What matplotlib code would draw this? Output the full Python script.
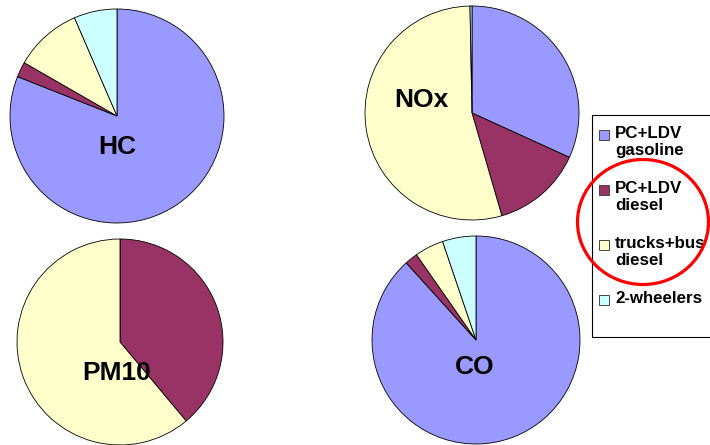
import matplotlib
matplotlib.use('Agg')
import matplotlib.pyplot as plt
from matplotlib.patches import Rectangle, Ellipse

plt.rcParams['font.family'] = ['Liberation Sans', 'DejaVu Sans']
plt.rcParams['font.weight'] = 'bold'

# shares of emissions per vehicle category (%)
categories = ['PC+LDV\ngasoline', 'PC+LDV\ndiesel', 'trucks+bus\ndiesel', '2-wheelers']
colors = ['#9999FF', '#993366', '#FFFFCC', '#CCFFFF']

hc = [81.0, 2.3, 10.2, 6.5]
nox = [31.8, 13.7, 54.2, 0.3]
pm10 = [0.0, 38.9, 61.1, 0.0]
co = [88.3, 2.0, 4.5, 5.2]

W, H = 710, 445

# pollutant name, values, pie centre (image px), radius, label position (image px)
pies = [
    ('HC', hc, (117, 116), 107, (117, 147)),
    ('NOx', nox, (472, 113), 107, (421, 100)),
    ('PM10', pm10, (120, 342), 103, (117, 373)),
    ('CO', co, (476, 340), 104, (475, 367)),
]

fig = plt.figure(figsize=(W / 100, H / 100), dpi=100)
ax = fig.add_axes([0, 0, 1, 1])

for name, vals, (cx, cy), r, (lx, ly) in pies:
    v = [x for x in vals if x > 0]
    c = [col for x, col in zip(vals, colors) if x > 0]
    ax.pie(v, colors=c, center=(cx, H - cy), radius=r, startangle=90,
           counterclock=False, wedgeprops=dict(edgecolor='black', linewidth=0.6))
    ax.text(lx, H - ly, name, fontsize=19, fontweight='bold',
            ha='center', va='center')

# legend drawn by hand to match the boxed layout
ax.add_patch(Rectangle((592, H - 337), 130, 222, facecolor='white',
                       edgecolor='black', linewidth=0.8, zorder=3))
for i, (lab, col) in enumerate(zip(categories, colors)):
    ty = 135 + 55 * i
    ax.add_patch(Rectangle((599, H - ty - 5), 10, 10, facecolor=col,
                           edgecolor='#444444', linewidth=0.7, zorder=4))
    ax.text(615, H - ty + 9, lab, fontsize=12.2, fontweight='bold',
            ha='left', va='top', linespacing=1.15, zorder=4)

ax.add_patch(Ellipse((643, H - 222), 131, 125, facecolor='none',
                     edgecolor='#FF0000', linewidth=2.3, zorder=5))

ax.set_xlim(0, W)
ax.set_ylim(0, H)
ax.set_aspect('auto')
ax.axis('off')

fig.savefig('out.png', dpi=100)
